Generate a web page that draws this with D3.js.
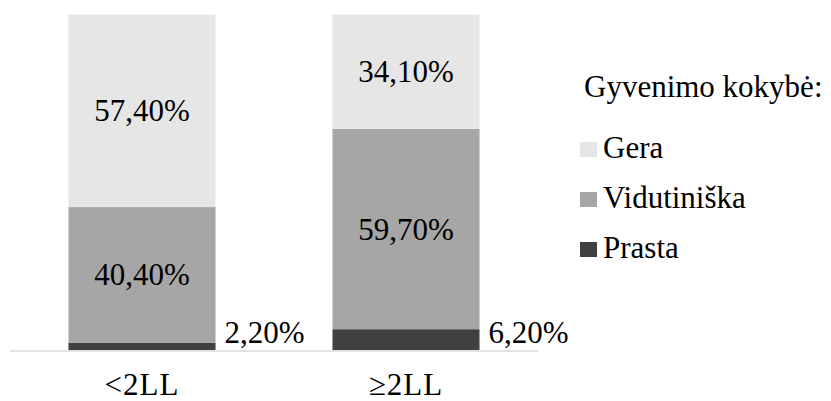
<!DOCTYPE html>
<html>
<head>
<meta charset="utf-8">
<script src="https://cdn.jsdelivr.net/npm/d3@7"></script>
<style>
  html, body { margin: 0; padding: 0; background: #fff; }
</style>
</head>
<body>
<svg id="chart"></svg>
<script>
// Categories and series (shares, 0..1)
const categories = ['<2LL', '≥2LL'];
const seriesNames = ['Prasta', 'Vidutiniška', 'Gera'];
const prasta = [0.022, 0.062];
const vidutiniska = [0.404, 0.597];
const gera = [0.574, 0.341];
const legendTitle = 'Gyvenimo kokybė:';
const legendOrder = ['Gera', 'Vidutiniška', 'Prasta'];

const WIDTH = 831;
const HEIGHT = 401;
const FONT_SIZE = 31;
const FONT = '"Liberation Serif", "DejaVu Serif", serif';
const colours = { Prasta: '#404040', 'Vidutiniška': '#a6a6a6', Gera: '#e6e6e6' };

const fmt = (v) => (v * 100).toFixed(2).replace('.', ',') + '%';

const rows = categories.map((c, i) => ({
  category: c,
  Prasta: prasta[i],
  'Vidutiniška': vidutiniska[i],
  Gera: gera[i],
}));

const stacked = d3.stack().keys(seriesNames)(rows);

const svg = d3
  .select('#chart')
  .attr('width', WIDTH)
  .attr('height', HEIGHT)
  .style('display', 'block')
  .attr('font-family', FONT)
  .style('font-family', FONT);

const x = d3.scaleBand().domain(categories).range([10, 538]).paddingInner(0.443).paddingOuter(0.2215);
const y = d3.scaleLinear().domain([0, 1]).range([350, 14.5]);

// Bars
const layers = svg
  .append('g')
  .attr('id', 'bars')
  .selectAll('g')
  .data(stacked)
  .join('g')
  .attr('fill', (s) => colours[s.key]);

layers
  .selectAll('rect')
  .data((s) => s.map((d) => ({ key: s.key, d })))
  .join('rect')
  .attr('x', (p) => x(p.d.data.category))
  .attr('width', x.bandwidth())
  .attr('y', (p) => y(p.d[1]))
  .attr('height', (p) => y(p.d[0]) - y(p.d[1]));

// Category axis line
svg
  .append('line')
  .attr('x1', x.range()[0])
  .attr('x2', x.range()[1])
  .attr('y1', y(0) + 1)
  .attr('y2', y(0) + 1)
  .attr('stroke', '#d9d9d9')
  .attr('stroke-width', 1.5);

// Value labels (the small "Prasta" share sits beside the bar)
const labels = svg.append('g').attr('id', 'value-labels').attr('font-size', FONT_SIZE).attr('fill', '#000');

stacked.forEach((s) => {
  s.forEach((d) => {
    const v = d[1] - d[0];
    const small = s.key === 'Prasta';
    labels
      .append('text')
      .attr('x', small ? x(d.data.category) + x.bandwidth() + 9 : x(d.data.category) + x.bandwidth() / 2)
      .attr('y', small ? y(0) - 18 : (y(d[0]) + y(d[1])) / 2)
      .attr('text-anchor', small ? 'start' : 'middle')
      .attr('dominant-baseline', 'central')
      .text(fmt(v));
  });
});

// Category labels
svg
  .append('g')
  .attr('id', 'category-labels')
  .attr('font-size', FONT_SIZE)
  .attr('fill', '#000')
  .selectAll('text')
  .data(categories)
  .join('text')
  .attr('x', (c) => x(c) + x.bandwidth() / 2)
  .attr('y', 395)
  .attr('text-anchor', 'middle')
  .attr('letter-spacing', 1)
  .text((c) => c);

// Legend
const legend = svg.append('g').attr('id', 'legend').attr('font-size', FONT_SIZE).attr('fill', '#000');

legend.append('text').attr('x', 584).attr('y', 97).text(legendTitle);

const items = legend
  .selectAll('g.item')
  .data(legendOrder)
  .join('g')
  .attr('class', 'item')
  .attr('transform', (_, i) => `translate(580, ${150 + i * 50})`);

items
  .append('rect')
  .attr('x', 0)
  .attr('y', -8)
  .attr('width', 17)
  .attr('height', 15)
  .attr('fill', (k) => colours[k]);

items
  .append('text')
  .attr('x', 23)
  .attr('y', 8)
  .text((k) => k);
</script>
</body>
</html>
